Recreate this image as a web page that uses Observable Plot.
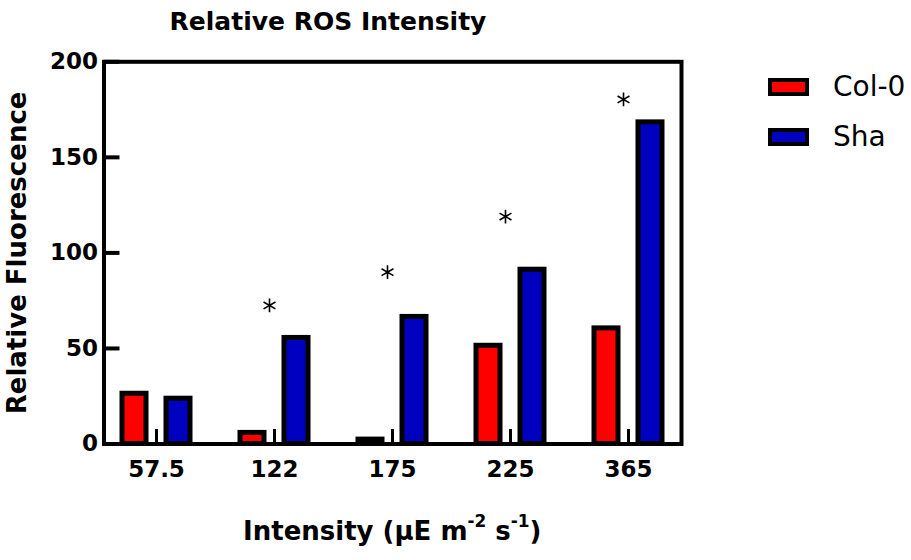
<!DOCTYPE html>
<html>
<head>
<meta charset="utf-8">
<script src="https://cdn.jsdelivr.net/npm/d3@7"></script>
<script src="https://cdn.jsdelivr.net/npm/@observablehq/plot@0.6"></script>
<style>
  html, body { margin: 0; padding: 0; background: #fff; }
  #wrap { position: relative; width: 911px; height: 560px; font-family: "DejaVu Sans", sans-serif; color: #000; }
  #title { position: relative; height: 40px; }
  #title div { position: absolute; left: 0; width: 656px; top: 9px; text-align: center; font-size: 25px; line-height: 25px; font-weight: bold; }
  #xtitle { position: relative; height: 60px; }
  #xtitle div { position: absolute; left: 103.5px; width: 577.5px; top: 18px; text-align: center; font-size: 26px; line-height: 26px; font-weight: bold; }
  #xtitle sup { font-size: 0.65em; line-height: 0; vertical-align: 13px; }
  #legend { position: absolute; left: 768px; top: 78px; }
  .item { display: flex; align-items: center; height: 18px; margin-bottom: 32px; }
  .sw { box-sizing: border-box; width: 41px; height: 18px; border: 4.5px solid #000; }
  .lab { margin-left: 24px; font-size: 28px; line-height: 28px; }
  svg { display: block; }
</style>
</head>
<body>
<div id="wrap">
  <div id="title"><div>Relative ROS Intensity</div></div>
  <div id="plot"></div>
  <div id="xtitle"><div>Intensity (μE m<sup>-2</sup> s<sup>-1</sup>)</div></div>
  <div id="legend"></div>
</div>
<script>
// ---- data ----
const categories = ["57.5", "122", "175", "225", "365"];
const series = ["Col-0", "Sha"];
const col0Values = [26.3, 5.8, 2.3, 51.4, 60.5];
const shaValues = [23.7, 55.5, 66.5, 91.2, 168.3];
const sigHeights = [null, 72.5, 89.9, 119, 180.3]; // asterisk positions
const yTicks = [0, 50, 100, 150, 200];
const seriesColors = ["#ff0000", "#0000c0"];

// ---- layout ----
const W = 911, H = 460;
const mTop = 21.3, mLeft = 103.5, mRight = 230, mBottom = 56.5;
const frameW = W - mLeft - mRight;
const frameH = H - mTop - mBottom;

const rows = [];
categories.forEach((c, i) => {
  rows.push({cat: c, series: series[0], value: col0Values[i]});
  rows.push({cat: c, series: series[1], value: shaValues[i]});
});
const sig = categories.map((c, i) => ({cat: c, y: sigHeights[i]})).filter(d => d.y != null);

const chart = Plot.plot({
  width: W, height: H,
  marginTop: mTop, marginLeft: mLeft, marginRight: mRight, marginBottom: mBottom,
  style: {fontFamily: "DejaVu Sans, sans-serif", background: "#fff", color: "#000"},
  x: {domain: categories, paddingInner: 0.424, paddingOuter: 0.159, align: 0.5},
  y: {domain: [0, 200]},
  color: {domain: series, range: seriesColors},
  marks: [
    Plot.barY(rows.filter(d => d.series === series[0]), {
      x: "cat", y: "value", fill: "series", stroke: "#000", strokeWidth: 5,
      insetRight: 44
    }),
    Plot.barY(rows.filter(d => d.series === series[1]), {
      x: "cat", y: "value", fill: "series", stroke: "#000", strokeWidth: 5,
      insetLeft: 44
    }),
    Plot.ruleX(categories, {x: d => d, insetTop: frameH - 14.5, stroke: "#000", strokeWidth: 3}),
    Plot.ruleY(yTicks, {y: d => d, insetRight: frameW - 16, stroke: "#000", strokeWidth: 4}),
    Plot.frame({stroke: "#000", strokeWidth: 4}),
    Plot.dot(sig, {x: "cat", y: "y", symbol: "asterisk", r: 6.5, stroke: "#000", strokeWidth: 1.6, dx: -5}),
    Plot.axisX({tickSize: 0, tickPadding: 16.5, fontSize: 23, fontWeight: "bold", label: null}),
    Plot.axisY(yTicks, {tickSize: 0, tickPadding: 6, fontSize: 23, fontWeight: "bold", label: null, tickFormat: d => String(d)}),
    Plot.text(["Relative Fluorescence"], {
      frameAnchor: "left", rotate: -90, dx: -96.5, lineAnchor: "top", textAnchor: "middle",
      fontSize: 26, fontWeight: "bold", fill: "#000"
    })
  ]
});
document.getElementById("plot").appendChild(chart);

// legend
const legend = document.getElementById("legend");
series.forEach((s, i) => {
  const item = document.createElement("div");
  item.className = "item";
  const sw = document.createElement("div");
  sw.className = "sw";
  sw.style.background = seriesColors[i];
  const lab = document.createElement("span");
  lab.className = "lab";
  lab.textContent = s;
  item.appendChild(sw); item.appendChild(lab);
  legend.appendChild(item);
});
</script>
</body>
</html>
